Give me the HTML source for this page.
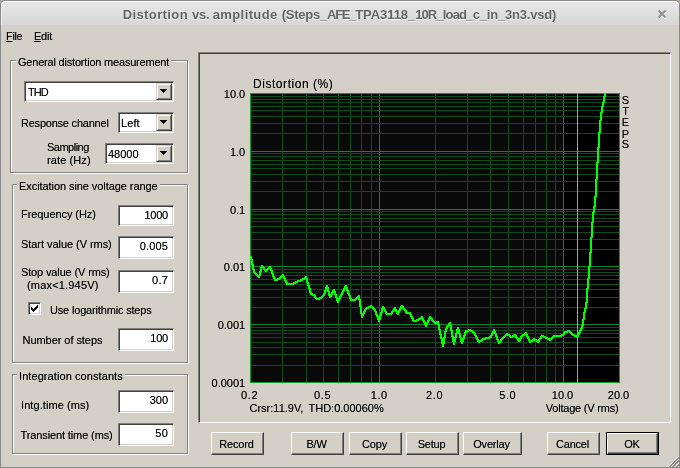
<!DOCTYPE html>
<html><head><meta charset="utf-8"><title>Distortion vs. amplitude</title>
<style>
html,body{margin:0;padding:0;}
body{width:680px;height:468px;overflow:hidden;background:#a9a59d;position:relative;font-family:"Liberation Sans",sans-serif;font-size:11px;color:#000;text-shadow:0 0 0 rgba(0,0,0,.55);}
#win{position:absolute;left:0;top:0;width:678px;height:466px;border:1px solid #8a8a8a;border-radius:5px 5px 0 0;background:#d4d0c8;overflow:hidden;}
#title{position:absolute;left:0;top:0;width:678px;height:23px;background:linear-gradient(#e8e8e8,#d6d6d6);border-top:1px solid #fcfcfc;box-shadow:inset 1px 0 0 #f4f4f4;border-radius:4px 4px 0 0;}
#ttext span{position:absolute;top:0;white-space:pre;}
#ttext{position:absolute;left:0;top:7px;width:680px;font:bold 13px "Liberation Sans",sans-serif;color:#646464;line-height:16px;text-shadow:0 1px 0 #fff;white-space:nowrap;}
.t{position:absolute;white-space:nowrap;line-height:13px;font-size:11px;letter-spacing:-0.22px;}
.yl{left:200px;width:45.2px;text-align:right;letter-spacing:0;}
.xl{top:389px;width:42px;text-align:center;letter-spacing:0.6px;}
.gb{position:absolute;border:1px solid #808080;box-shadow:1px 1px 0 #fff, inset 1px 1px 0 #fff;}
.gl{letter-spacing:-0.22px;position:absolute;background:#d4d0c8;padding:0 2px;white-space:nowrap;line-height:13px;}
.ed{position:absolute;background:#fff;border:1px solid;border-color:#808080 #fff #fff #808080;box-shadow:inset 1px 1px 0 #404040, inset -1px -1px 0 #d4d0c8;box-sizing:border-box;}
.ed .t{right:5px;text-align:right;}
.db{position:absolute;height:17px;background:#d4d0c8;border:1px solid;border-color:#d4d0c8 #404040 #404040 #d4d0c8;box-shadow:inset 1px 1px 0 #fff, inset -1px -1px 0 #808080;box-sizing:border-box;width:16px;}
.db svg{position:absolute;left:3px;top:5px;}
.bt{position:absolute;background:#d4d0c8;border:1px solid;border-color:#fff #404040 #404040 #fff;box-shadow:inset -1px -1px 0 #808080;box-sizing:border-box;height:23px;text-align:center;line-height:21px;font-size:11px;letter-spacing:-0.2px;padding:1px 2px 0 0;}
.plot{position:absolute;left:0;top:0;}
u{text-decoration:underline;text-underline-offset:1px;text-decoration-thickness:1px;}
</style></head><body>
<div id="win">
<div id="title"></div>
</div>
<div id="ttext"><span style="left:122.7px;letter-spacing:0.39px">Distortion </span><span style="left:192px;letter-spacing:-0.25px">vs. </span><span style="left:212.7px;letter-spacing:0.40px">amplitude </span><span style="left:281.7px;letter-spacing:-0.24px">(Steps_</span><span style="left:327px;letter-spacing:-1.26px">AFE_</span><span style="left:355.2px;letter-spacing:-0.06px">TPA3118_</span><span style="left:415.2px;letter-spacing:-0.89px">10R_</span><span style="left:442.7px;letter-spacing:-0.79px">load_</span><span style="left:472.7px;letter-spacing:-0.19px">c_in_</span><span style="left:505px;letter-spacing:-0.21px">3n3.vsd)</span></div>
<svg style="position:absolute;left:657px;top:9px" width="10" height="11" viewBox="0 0 10 11"><path d="M1.5 2.5L8.5 9.5M8.5 2.5L1.5 9.5" stroke="#fff" stroke-width="2.2"/><path d="M1.5 1.5L8.5 8.5M8.5 1.5L1.5 8.5" stroke="#939393" stroke-width="2.2"/></svg>

<div class="t" id="mfile" style="left:6px;top:30px;letter-spacing:-0.35px"><u>F</u>ile</div>
<div class="t" id="medit" style="left:34px;top:30px;letter-spacing:-0.25px"><u>E</u>dit</div>

<!-- group 1 -->
<div class="gb" style="left:10px;top:60px;width:176px;height:111px"></div>
<div class="gl" id="g1" style="left:16px;top:56px;letter-spacing:-0.2px">General distortion measurement</div>
<div class="ed" style="left:24px;top:81px;width:150px;height:21px"><div class="t" id="thd" style="left:3px;top:4px;right:auto;letter-spacing:-1px">THD</div><div class="db" style="right:1px;top:1px"><svg width="7" height="4" viewBox="0 0 7 4" shape-rendering="crispEdges"><path d="M0 0h7v1h-1v1h-1v1h-1v1h-1v-1h-1v-1h-1v-1h-1z" fill="#000"/></svg></div></div>
<div class="t" id="resp" style="left:21px;top:117px">Response channel</div>
<div class="ed" style="left:118px;top:112px;width:56px;height:21px"><div class="t" id="left" style="left:2px;top:4px;right:auto;letter-spacing:0.1px">Left</div><div class="db" style="right:1px;top:1px"><svg width="7" height="4" viewBox="0 0 7 4" shape-rendering="crispEdges"><path d="M0 0h7v1h-1v1h-1v1h-1v1h-1v-1h-1v-1h-1v-1h-1z" fill="#000"/></svg></div></div>
<div class="t" id="samp" style="left:47px;top:141px;letter-spacing:-0.5px">Sampling</div>
<div class="t" id="rate" style="left:47px;top:154px;letter-spacing:0.1px">rate (Hz)</div>
<div class="ed" style="left:105px;top:143px;width:69px;height:21px"><div class="t" id="v48" style="left:2px;top:4px;right:auto;letter-spacing:0px">48000</div><div class="db" style="right:1px;top:1px"><svg width="7" height="4" viewBox="0 0 7 4" shape-rendering="crispEdges"><path d="M0 0h7v1h-1v1h-1v1h-1v1h-1v-1h-1v-1h-1v-1h-1z" fill="#000"/></svg></div></div>

<!-- group 2 -->
<div class="gb" style="left:12px;top:184px;width:174px;height:177px"></div>
<div class="gl" id="g2" style="left:17px;top:180px;letter-spacing:-0.07px">Excitation sine voltage range</div>
<div class="t" id="freq" style="left:21px;top:208px;letter-spacing:-0.07px">Frequency (Hz)</div>
<div class="ed" style="left:118px;top:205px;width:56px;height:21px"><div class="t" id="v1000" style="top:3px">1000</div></div>
<div class="t" id="start" style="left:21px;top:238px;letter-spacing:-0.05px">Start value (V rms)</div>
<div class="ed" style="left:118px;top:236px;width:56px;height:23px"><div class="t" id="v0005" style="top:3px;letter-spacing:0.13px">0.005</div></div>
<div class="t" id="stop" style="left:21px;top:266px;letter-spacing:-0.14px">Stop value (V rms)</div>
<div class="t" id="max" style="left:27px;top:279px;letter-spacing:0.18px">(max&lt;1.945V)</div>
<div class="ed" style="left:118px;top:270px;width:56px;height:23px"><div class="t" id="v07" style="top:3px;letter-spacing:0.2px">0.7</div></div>
<div class="ed" style="left:28px;top:302px;width:13px;height:13px"><svg style="position:absolute;left:2px;top:2px" width="7" height="7" viewBox="0 0 7 7" shape-rendering="crispEdges"><path d="M0 2h1v3h-1zM1 3h1v3h-1zM2 4h1v3h-1zM3 3h1v3h-1zM4 2h1v3h-1zM5 1h1v3h-1zM6 0h1v3h-1z" fill="#000"/></svg></div>
<div class="t" id="uselog" style="left:50px;top:304px;letter-spacing:-0.17px">Use logarithmic steps</div>
<div class="t" id="nsteps" style="left:22.5px;top:334px;letter-spacing:-0.05px">Number of steps</div>
<div class="ed" style="left:118px;top:328px;width:56px;height:23px"><div class="t" id="v100" style="top:3px">100</div></div>

<!-- group 3 -->
<div class="gb" style="left:12px;top:374px;width:174px;height:78px"></div>
<div class="gl" id="g3" style="left:17px;top:370px;letter-spacing:0.08px">Integration constants</div>
<div class="t" id="intg" style="left:21px;top:399px;letter-spacing:0.08px">Intg.time (ms)</div>
<div class="ed" style="left:118px;top:390px;width:56px;height:23px"><div class="t" id="v300" style="top:3px;letter-spacing:0px">300</div></div>
<div class="t" id="trans" style="left:20.5px;top:429px;letter-spacing:-0.115px">Transient time (ms)</div>
<div class="ed" style="left:118px;top:423px;width:56px;height:23px"><div class="t" id="v50" style="top:3px;letter-spacing:0.2px">50</div></div>

<!-- plot frame -->
<div style="position:absolute;left:198px;top:52px;width:473px;height:371px;box-sizing:border-box;border:1px solid;border-color:#808080 #fff #fff #808080;box-shadow:inset 1px 1px 0 #404040, inset -1px -1px 0 #d4d0c8;"></div>
<svg class="plot" width="680" height="468" viewBox="0 0 680 468" shape-rendering="crispEdges">
<rect x="250" y="93" width="370" height="290" fill="#090909"/>
<rect x="563" y="93" width="57" height="290" fill="#000"/>
<rect x="282" y="93" width="1" height="290" fill="#0b4c1e"/>
<rect x="306" y="93" width="1" height="290" fill="#0b4c1e"/>
<rect x="323" y="93" width="1" height="290" fill="#0b4c1e"/>
<rect x="338" y="93" width="1" height="290" fill="#0b4c1e"/>
<rect x="350" y="93" width="1" height="290" fill="#0b4c1e"/>
<rect x="361" y="93" width="1" height="290" fill="#0b4c1e"/>
<rect x="371" y="93" width="1" height="290" fill="#0b4c1e"/>
<rect x="379" y="93" width="1" height="290" fill="#0b862d"/>
<rect x="435" y="93" width="1" height="290" fill="#0b4c1e"/>
<rect x="467" y="93" width="1" height="290" fill="#0b4c1e"/>
<rect x="490" y="93" width="1" height="290" fill="#0b4c1e"/>
<rect x="508" y="93" width="1" height="290" fill="#0b4c1e"/>
<rect x="523" y="93" width="1" height="290" fill="#0b4c1e"/>
<rect x="535" y="93" width="1" height="290" fill="#0b4c1e"/>
<rect x="546" y="93" width="1" height="290" fill="#0b4c1e"/>
<rect x="555" y="93" width="1" height="290" fill="#0b4c1e"/>
<rect x="563" y="93" width="1" height="290" fill="#0b862d"/>
<rect x="250" y="382" width="370" height="1" fill="#0b862d"/>
<rect x="250" y="365" width="370" height="1" fill="#0b4c1e"/>
<rect x="250" y="354" width="370" height="1" fill="#0b4c1e"/>
<rect x="250" y="347" width="370" height="1" fill="#0b4c1e"/>
<rect x="250" y="342" width="370" height="1" fill="#0b4c1e"/>
<rect x="250" y="337" width="370" height="1" fill="#0b4c1e"/>
<rect x="250" y="333" width="370" height="1" fill="#0b4c1e"/>
<rect x="250" y="330" width="370" height="1" fill="#0b4c1e"/>
<rect x="250" y="327" width="370" height="1" fill="#0b4c1e"/>
<rect x="250" y="324" width="370" height="1" fill="#0b862d"/>
<rect x="250" y="307" width="370" height="1" fill="#0b4c1e"/>
<rect x="250" y="297" width="370" height="1" fill="#0b4c1e"/>
<rect x="250" y="289" width="370" height="1" fill="#0b4c1e"/>
<rect x="250" y="284" width="370" height="1" fill="#0b4c1e"/>
<rect x="250" y="279" width="370" height="1" fill="#0b4c1e"/>
<rect x="250" y="275" width="370" height="1" fill="#0b4c1e"/>
<rect x="250" y="272" width="370" height="1" fill="#0b4c1e"/>
<rect x="250" y="269" width="370" height="1" fill="#0b4c1e"/>
<rect x="250" y="266" width="370" height="1" fill="#0b862d"/>
<rect x="250" y="249" width="370" height="1" fill="#0b4c1e"/>
<rect x="250" y="239" width="370" height="1" fill="#0b4c1e"/>
<rect x="250" y="232" width="370" height="1" fill="#0b4c1e"/>
<rect x="250" y="226" width="370" height="1" fill="#0b4c1e"/>
<rect x="250" y="221" width="370" height="1" fill="#0b4c1e"/>
<rect x="250" y="218" width="370" height="1" fill="#0b4c1e"/>
<rect x="250" y="214" width="370" height="1" fill="#0b4c1e"/>
<rect x="250" y="211" width="370" height="1" fill="#0b4c1e"/>
<rect x="250" y="209" width="370" height="1" fill="#0b862d"/>
<rect x="250" y="191" width="370" height="1" fill="#0b4c1e"/>
<rect x="250" y="181" width="370" height="1" fill="#0b4c1e"/>
<rect x="250" y="174" width="370" height="1" fill="#0b4c1e"/>
<rect x="250" y="168" width="370" height="1" fill="#0b4c1e"/>
<rect x="250" y="164" width="370" height="1" fill="#0b4c1e"/>
<rect x="250" y="160" width="370" height="1" fill="#0b4c1e"/>
<rect x="250" y="156" width="370" height="1" fill="#0b4c1e"/>
<rect x="250" y="153" width="370" height="1" fill="#0b4c1e"/>
<rect x="250" y="151" width="370" height="1" fill="#0b862d"/>
<rect x="250" y="133" width="370" height="1" fill="#0b4c1e"/>
<rect x="250" y="123" width="370" height="1" fill="#0b4c1e"/>
<rect x="250" y="116" width="370" height="1" fill="#0b4c1e"/>
<rect x="250" y="110" width="370" height="1" fill="#0b4c1e"/>
<rect x="250" y="106" width="370" height="1" fill="#0b4c1e"/>
<rect x="250" y="102" width="370" height="1" fill="#0b4c1e"/>
<rect x="250" y="99" width="370" height="1" fill="#0b4c1e"/>
<rect x="250" y="96" width="370" height="1" fill="#0b4c1e"/>
<rect x="250.5" y="93.5" width="369" height="289" fill="none" stroke="#0f9a30" stroke-width="1"/>
<rect x="577" y="93" width="1" height="290" fill="#c4b000"/>
<path d="M604 93h2v1h-2zM604 94h2v1h-2zM604 95h2v1h-2zM603 96h3v1h-3zM603 97h2v1h-2zM603 98h2v1h-2zM603 99h2v1h-2zM603 100h2v1h-2zM603 101h2v1h-2zM602 102h3v1h-3zM602 103h2v1h-2zM602 104h2v1h-2zM602 105h2v1h-2zM601 106h3v1h-3zM601 107h2v1h-2zM601 108h2v1h-2zM601 109h2v1h-2zM601 110h2v1h-2zM601 111h2v1h-2zM600 112h3v1h-3zM600 113h2v1h-2zM600 114h2v1h-2zM600 115h2v1h-2zM600 116h2v1h-2zM600 117h2v1h-2zM600 118h2v1h-2zM600 119h2v1h-2zM599 120h3v1h-3zM599 121h2v1h-2zM599 122h2v1h-2zM599 123h2v1h-2zM599 124h2v1h-2zM599 125h2v1h-2zM599 126h2v1h-2zM599 127h2v1h-2zM599 128h2v1h-2zM599 129h2v1h-2zM599 130h2v1h-2zM599 131h2v1h-2zM598 132h3v1h-3zM598 133h2v1h-2zM598 134h2v1h-2zM598 135h2v1h-2zM598 136h2v1h-2zM598 137h2v1h-2zM598 138h2v1h-2zM598 139h2v1h-2zM598 140h2v1h-2zM598 141h2v1h-2zM598 142h2v1h-2zM598 143h2v1h-2zM598 144h2v1h-2zM598 145h2v1h-2zM598 146h2v1h-2zM597 147h3v1h-3zM597 148h2v1h-2zM597 149h2v1h-2zM597 150h2v1h-2zM597 151h2v1h-2zM597 152h2v1h-2zM597 153h2v1h-2zM597 154h2v1h-2zM597 155h2v1h-2zM597 156h2v1h-2zM597 157h2v1h-2zM597 158h2v1h-2zM597 159h2v1h-2zM597 160h2v1h-2zM597 161h2v1h-2zM596 162h3v1h-3zM596 163h2v1h-2zM596 164h2v1h-2zM596 165h2v1h-2zM596 166h2v1h-2zM596 167h2v1h-2zM596 168h2v1h-2zM596 169h2v1h-2zM596 170h2v1h-2zM596 171h2v1h-2zM596 172h2v1h-2zM596 173h2v1h-2zM596 174h2v1h-2zM596 175h2v1h-2zM596 176h2v1h-2zM596 177h2v1h-2zM596 178h2v1h-2zM595 179h3v1h-3zM595 180h2v1h-2zM595 181h2v1h-2zM595 182h2v1h-2zM595 183h2v1h-2zM595 184h2v1h-2zM595 185h2v1h-2zM595 186h2v1h-2zM595 187h2v1h-2zM595 188h2v1h-2zM595 189h2v1h-2zM595 190h2v1h-2zM595 191h2v1h-2zM595 192h2v1h-2zM595 193h2v1h-2zM595 194h2v1h-2zM595 195h2v1h-2zM594 196h3v1h-3zM594 197h2v1h-2zM594 198h2v1h-2zM594 199h2v1h-2zM594 200h2v1h-2zM594 201h2v1h-2zM594 202h2v1h-2zM594 203h2v1h-2zM594 204h2v1h-2zM594 205h2v1h-2zM593 206h3v1h-3zM593 207h2v1h-2zM593 208h2v1h-2zM593 209h2v1h-2zM593 210h2v1h-2zM593 211h2v1h-2zM592 212h3v1h-3zM592 213h2v1h-2zM592 214h2v1h-2zM592 215h2v1h-2zM592 216h2v1h-2zM592 217h2v1h-2zM592 218h2v1h-2zM592 219h2v1h-2zM592 220h2v1h-2zM592 221h2v1h-2zM591 222h3v1h-3zM591 223h2v1h-2zM591 224h2v1h-2zM591 225h2v1h-2zM591 226h2v1h-2zM591 227h2v1h-2zM591 228h2v1h-2zM591 229h2v1h-2zM591 230h2v1h-2zM591 231h2v1h-2zM591 232h2v1h-2zM591 233h2v1h-2zM591 234h2v1h-2zM591 235h2v1h-2zM591 236h2v1h-2zM590 237h3v1h-3zM590 238h2v1h-2zM590 239h2v1h-2zM590 240h2v1h-2zM590 241h2v1h-2zM590 242h2v1h-2zM590 243h2v1h-2zM590 244h2v1h-2zM590 245h2v1h-2zM590 246h2v1h-2zM590 247h2v1h-2zM590 248h2v1h-2zM590 249h2v1h-2zM590 250h2v1h-2zM590 251h2v1h-2zM589 252h3v1h-3zM589 253h2v1h-2zM589 254h2v1h-2zM589 255h2v1h-2zM250 256h2v1h-2zM589 256h2v1h-2zM250 257h2v1h-2zM589 257h2v1h-2zM250 258h2v1h-2zM589 258h2v1h-2zM250 259h3v1h-3zM589 259h2v1h-2zM251 260h2v1h-2zM589 260h2v1h-2zM251 261h2v1h-2zM589 261h2v1h-2zM251 262h2v1h-2zM589 262h2v1h-2zM251 263h2v1h-2zM589 263h2v1h-2zM251 264h3v1h-3zM589 264h2v1h-2zM252 265h2v1h-2zM261 265h2v1h-2zM589 265h2v1h-2zM252 266h2v1h-2zM261 266h3v1h-3zM269 266h2v1h-2zM588 266h3v1h-3zM252 267h2v1h-2zM260 267h5v1h-5zM268 267h3v1h-3zM588 267h2v1h-2zM252 268h2v1h-2zM260 268h2v1h-2zM263 268h2v1h-2zM267 268h5v1h-5zM588 268h2v1h-2zM252 269h3v1h-3zM260 269h2v1h-2zM263 269h6v1h-6zM270 269h2v1h-2zM588 269h2v1h-2zM253 270h2v1h-2zM260 270h2v1h-2zM264 270h4v1h-4zM270 270h3v1h-3zM588 270h2v1h-2zM253 271h2v1h-2zM259 271h3v1h-3zM265 271h2v1h-2zM271 271h2v1h-2zM588 271h2v1h-2zM253 272h3v1h-3zM259 272h2v1h-2zM271 272h2v1h-2zM588 272h2v1h-2zM254 273h3v1h-3zM259 273h2v1h-2zM271 273h3v1h-3zM588 273h2v1h-2zM255 274h3v1h-3zM259 274h2v1h-2zM272 274h2v1h-2zM282 274h2v1h-2zM588 274h2v1h-2zM256 275h5v1h-5zM272 275h2v1h-2zM281 275h3v1h-3zM588 275h2v1h-2zM257 276h3v1h-3zM272 276h3v1h-3zM280 276h5v1h-5zM305 276h2v1h-2zM588 276h2v1h-2zM258 277h2v1h-2zM273 277h2v1h-2zM279 277h3v1h-3zM283 277h2v1h-2zM304 277h3v1h-3zM588 277h2v1h-2zM273 278h3v1h-3zM277 278h4v1h-4zM283 278h3v1h-3zM302 278h6v1h-6zM587 278h3v1h-3zM274 279h6v1h-6zM284 279h2v1h-2zM300 279h5v1h-5zM306 279h2v1h-2zM587 279h2v1h-2zM274 280h4v1h-4zM284 280h3v1h-3zM297 280h6v1h-6zM306 280h2v1h-2zM587 280h2v1h-2zM285 281h2v1h-2zM295 281h6v1h-6zM306 281h2v1h-2zM587 281h2v1h-2zM285 282h3v1h-3zM293 282h5v1h-5zM306 282h3v1h-3zM587 282h2v1h-2zM286 283h10v1h-10zM307 283h2v1h-2zM587 283h2v1h-2zM286 284h8v1h-8zM307 284h2v1h-2zM587 284h2v1h-2zM307 285h3v1h-3zM326 285h2v1h-2zM345 285h2v1h-2zM587 285h2v1h-2zM308 286h2v1h-2zM326 286h2v1h-2zM344 286h3v1h-3zM587 286h2v1h-2zM308 287h2v1h-2zM325 287h4v1h-4zM344 287h4v1h-4zM587 287h2v1h-2zM308 288h3v1h-3zM325 288h4v1h-4zM343 288h5v1h-5zM586 288h3v1h-3zM309 289h2v1h-2zM325 289h4v1h-4zM333 289h2v1h-2zM343 289h2v1h-2zM346 289h2v1h-2zM586 289h2v1h-2zM309 290h2v1h-2zM324 290h5v1h-5zM332 290h3v1h-3zM342 290h3v1h-3zM346 290h3v1h-3zM586 290h2v1h-2zM309 291h2v1h-2zM324 291h2v1h-2zM327 291h3v1h-3zM332 291h4v1h-4zM342 291h2v1h-2zM347 291h2v1h-2zM586 291h2v1h-2zM309 292h3v1h-3zM324 292h2v1h-2zM328 292h2v1h-2zM331 292h5v1h-5zM341 292h3v1h-3zM347 292h2v1h-2zM586 292h2v1h-2zM310 293h3v1h-3zM323 293h3v1h-3zM328 293h2v1h-2zM331 293h2v1h-2zM334 293h2v1h-2zM341 293h2v1h-2zM347 293h3v1h-3zM586 293h2v1h-2zM310 294h5v1h-5zM323 294h2v1h-2zM328 294h5v1h-5zM334 294h3v1h-3zM340 294h3v1h-3zM348 294h2v1h-2zM586 294h2v1h-2zM312 295h4v1h-4zM322 295h3v1h-3zM328 295h4v1h-4zM335 295h2v1h-2zM340 295h2v1h-2zM348 295h3v1h-3zM358 295h2v1h-2zM586 295h2v1h-2zM314 296h2v1h-2zM321 296h3v1h-3zM329 296h3v1h-3zM335 296h2v1h-2zM339 296h3v1h-3zM349 296h2v1h-2zM357 296h3v1h-3zM586 296h2v1h-2zM314 297h3v1h-3zM319 297h4v1h-4zM329 297h2v1h-2zM335 297h3v1h-3zM339 297h2v1h-2zM349 297h2v1h-2zM356 297h4v1h-4zM586 297h2v1h-2zM315 298h7v1h-7zM336 298h5v1h-5zM349 298h3v1h-3zM355 298h5v1h-5zM586 298h2v1h-2zM316 299h4v1h-4zM336 299h4v1h-4zM350 299h7v1h-7zM358 299h3v1h-3zM586 299h2v1h-2zM336 300h4v1h-4zM350 300h6v1h-6zM359 300h2v1h-2zM586 300h2v1h-2zM337 301h2v1h-2zM359 301h2v1h-2zM586 301h2v1h-2zM337 302h2v1h-2zM359 302h2v1h-2zM585 302h3v1h-3zM359 303h2v1h-2zM585 303h2v1h-2zM359 304h2v1h-2zM585 304h2v1h-2zM359 305h2v1h-2zM370 305h2v1h-2zM401 305h2v1h-2zM585 305h2v1h-2zM359 306h3v1h-3zM368 306h5v1h-5zM382 306h2v1h-2zM400 306h4v1h-4zM585 306h2v1h-2zM360 307h2v1h-2zM366 307h8v1h-8zM382 307h3v1h-3zM394 307h2v1h-2zM400 307h4v1h-4zM585 307h2v1h-2zM360 308h2v1h-2zM365 308h4v1h-4zM372 308h3v1h-3zM381 308h4v1h-4zM393 308h3v1h-3zM399 308h6v1h-6zM584 308h3v1h-3zM360 309h2v1h-2zM364 309h3v1h-3zM373 309h3v1h-3zM381 309h5v1h-5zM393 309h4v1h-4zM399 309h2v1h-2zM403 309h3v1h-3zM584 309h2v1h-2zM360 310h2v1h-2zM364 310h2v1h-2zM374 310h2v1h-2zM381 310h2v1h-2zM384 310h2v1h-2zM392 310h5v1h-5zM398 310h3v1h-3zM404 310h3v1h-3zM584 310h2v1h-2zM360 311h2v1h-2zM363 311h3v1h-3zM374 311h3v1h-3zM381 311h2v1h-2zM384 311h3v1h-3zM391 311h3v1h-3zM395 311h5v1h-5zM405 311h2v1h-2zM584 311h2v1h-2zM360 312h2v1h-2zM363 312h2v1h-2zM375 312h2v1h-2zM380 312h3v1h-3zM385 312h2v1h-2zM391 312h2v1h-2zM396 312h4v1h-4zM405 312h6v1h-6zM583 312h3v1h-3zM360 313h5v1h-5zM375 313h2v1h-2zM380 313h2v1h-2zM385 313h8v1h-8zM396 313h3v1h-3zM406 313h5v1h-5zM583 313h2v1h-2zM361 314h3v1h-3zM375 314h3v1h-3zM380 314h2v1h-2zM386 314h6v1h-6zM397 314h2v1h-2zM409 314h3v1h-3zM583 314h2v1h-2zM361 315h3v1h-3zM376 315h2v1h-2zM379 315h3v1h-3zM410 315h2v1h-2zM583 315h2v1h-2zM361 316h2v1h-2zM376 316h5v1h-5zM410 316h3v1h-3zM421 316h2v1h-2zM429 316h2v1h-2zM583 316h2v1h-2zM361 317h2v1h-2zM377 317h4v1h-4zM411 317h2v1h-2zM420 317h3v1h-3zM429 317h3v1h-3zM583 317h2v1h-2zM377 318h4v1h-4zM411 318h3v1h-3zM418 318h6v1h-6zM428 318h5v1h-5zM583 318h2v1h-2zM377 319h4v1h-4zM412 319h2v1h-2zM416 319h5v1h-5zM422 319h2v1h-2zM428 319h2v1h-2zM431 319h2v1h-2zM582 319h3v1h-3zM378 320h2v1h-2zM412 320h7v1h-7zM422 320h3v1h-3zM427 320h3v1h-3zM431 320h3v1h-3zM582 320h2v1h-2zM378 321h2v1h-2zM413 321h4v1h-4zM423 321h2v1h-2zM427 321h2v1h-2zM432 321h3v1h-3zM436 321h3v1h-3zM582 321h2v1h-2zM423 322h6v1h-6zM433 322h6v1h-6zM449 322h2v1h-2zM582 322h2v1h-2zM424 323h4v1h-4zM434 323h5v1h-5zM448 323h3v1h-3zM582 323h2v1h-2zM424 324h4v1h-4zM437 324h3v1h-3zM448 324h3v1h-3zM582 324h2v1h-2zM425 325h2v1h-2zM438 325h2v1h-2zM447 325h5v1h-5zM581 325h3v1h-3zM425 326h2v1h-2zM438 326h2v1h-2zM446 326h3v1h-3zM450 326h2v1h-2zM581 326h2v1h-2zM438 327h2v1h-2zM446 327h2v1h-2zM450 327h2v1h-2zM457 327h2v1h-2zM581 327h2v1h-2zM438 328h2v1h-2zM445 328h3v1h-3zM450 328h2v1h-2zM457 328h2v1h-2zM580 328h3v1h-3zM438 329h3v1h-3zM445 329h2v1h-2zM450 329h2v1h-2zM456 329h4v1h-4zM468 329h3v1h-3zM493 329h2v1h-2zM580 329h2v1h-2zM439 330h2v1h-2zM445 330h2v1h-2zM450 330h3v1h-3zM456 330h4v1h-4zM465 330h8v1h-8zM493 330h2v1h-2zM567 330h3v1h-3zM579 330h3v1h-3zM439 331h2v1h-2zM444 331h3v1h-3zM451 331h2v1h-2zM456 331h4v1h-4zM465 331h4v1h-4zM470 331h4v1h-4zM492 331h4v1h-4zM564 331h7v1h-7zM579 331h2v1h-2zM439 332h2v1h-2zM444 332h2v1h-2zM451 332h2v1h-2zM456 332h4v1h-4zM464 332h3v1h-3zM472 332h3v1h-3zM492 332h4v1h-4zM525 332h2v1h-2zM563 332h5v1h-5zM569 332h3v1h-3zM578 332h3v1h-3zM439 333h2v1h-2zM444 333h2v1h-2zM451 333h2v1h-2zM455 333h6v1h-6zM464 333h2v1h-2zM473 333h3v1h-3zM491 333h6v1h-6zM506 333h2v1h-2zM524 333h3v1h-3zM563 333h2v1h-2zM570 333h3v1h-3zM578 333h2v1h-2zM439 334h3v1h-3zM444 334h2v1h-2zM451 334h2v1h-2zM455 334h2v1h-2zM459 334h2v1h-2zM464 334h2v1h-2zM474 334h2v1h-2zM491 334h2v1h-2zM495 334h2v1h-2zM505 334h5v1h-5zM514 334h2v1h-2zM522 334h6v1h-6zM561 334h4v1h-4zM571 334h4v1h-4zM577 334h3v1h-3zM440 335h2v1h-2zM444 335h2v1h-2zM451 335h2v1h-2zM455 335h2v1h-2zM459 335h2v1h-2zM463 335h3v1h-3zM474 335h3v1h-3zM490 335h3v1h-3zM495 335h2v1h-2zM504 335h7v1h-7zM512 335h5v1h-5zM521 335h4v1h-4zM526 335h2v1h-2zM541 335h3v1h-3zM553 335h11v1h-11zM572 335h7v1h-7zM440 336h2v1h-2zM444 336h2v1h-2zM451 336h3v1h-3zM455 336h2v1h-2zM459 336h2v1h-2zM463 336h2v1h-2zM475 336h2v1h-2zM489 336h3v1h-3zM495 336h3v1h-3zM503 336h3v1h-3zM509 336h8v1h-8zM520 336h3v1h-3zM526 336h3v1h-3zM540 336h6v1h-6zM552 336h10v1h-10zM574 336h5v1h-5zM440 337h2v1h-2zM443 337h3v1h-3zM452 337h5v1h-5zM459 337h3v1h-3zM463 337h2v1h-2zM475 337h3v1h-3zM485 337h7v1h-7zM496 337h2v1h-2zM502 337h3v1h-3zM510 337h3v1h-3zM515 337h3v1h-3zM520 337h2v1h-2zM527 337h2v1h-2zM540 337h2v1h-2zM543 337h5v1h-5zM551 337h3v1h-3zM576 337h2v1h-2zM440 338h5v1h-5zM452 338h4v1h-4zM460 338h5v1h-5zM476 338h2v1h-2zM482 338h8v1h-8zM496 338h2v1h-2zM501 338h3v1h-3zM516 338h6v1h-6zM527 338h3v1h-3zM533 338h2v1h-2zM539 338h3v1h-3zM545 338h8v1h-8zM441 339h4v1h-4zM452 339h4v1h-4zM460 339h4v1h-4zM476 339h3v1h-3zM481 339h5v1h-5zM496 339h3v1h-3zM500 339h3v1h-3zM517 339h4v1h-4zM528 339h2v1h-2zM532 339h5v1h-5zM538 339h3v1h-3zM547 339h5v1h-5zM441 340h4v1h-4zM452 340h4v1h-4zM460 340h4v1h-4zM477 340h6v1h-6zM497 340h2v1h-2zM500 340h2v1h-2zM517 340h4v1h-4zM528 340h12v1h-12zM549 340h2v1h-2zM441 341h4v1h-4zM452 341h4v1h-4zM460 341h4v1h-4zM477 341h5v1h-5zM497 341h5v1h-5zM518 341h2v1h-2zM529 341h4v1h-4zM536 341h4v1h-4zM441 342h4v1h-4zM453 342h2v1h-2zM461 342h2v1h-2zM478 342h2v1h-2zM498 342h3v1h-3zM529 342h2v1h-2zM537 342h2v1h-2zM441 343h4v1h-4zM453 343h2v1h-2zM461 343h2v1h-2zM498 343h2v1h-2zM442 344h2v1h-2zM453 344h2v1h-2zM442 345h2v1h-2zM442 346h2v1h-2z" fill="#00ff00"/>
</svg>
<div class="t" id="pdist" style="left:253px;top:78px;font-size:12px;letter-spacing:0.55px">Distortion (%)</div>
<div class="t yl" id="y0" style="top:88px">10.0</div>
<div class="t yl" id="y1" style="top:146px">1.0</div>
<div class="t yl" id="y2" style="top:204px">0.1</div>
<div class="t yl" id="y3" style="top:261px">0.01</div>
<div class="t yl" id="y4" style="top:319px">0.001</div>
<div class="t yl" id="y5" style="top:377px">0.0001</div>

<div class="t xl" id="x0" style="left:228.6px">0.2</div>
<div class="t xl" id="x1" style="left:301.6px">0.5</div>
<div class="t xl" id="x2" style="left:358.3px">1.0</div>
<div class="t xl" id="x3" style="left:413.6px">2.0</div>
<div class="t xl" id="x4" style="left:486.8px">5.0</div>
<div class="t xl" id="x5" style="left:541.5px;letter-spacing:0">10.0</div>
<div class="t xl" id="x6" style="left:597.5px;letter-spacing:0">20.0</div>
<div class="t" id="crsr" style="left:249.5px;top:402px;letter-spacing:0px">Crsr:11.9V, </div><div class="t" id="crsr2" style="left:308.5px;top:402px;letter-spacing:0px">THD:0.00060%</div>
<div class="t" id="volt" style="left:500px;width:118.5px;text-align:right;top:402px;letter-spacing:-0.2px">Voltage (V rms)</div>
<div id="steps" style="position:absolute;left:620.5px;top:0;width:10px;text-align:center"><div class="t" style="left:0;width:10px;top:94px;letter-spacing:0">S</div><div class="t" style="left:0;width:10px;top:105px;letter-spacing:0">T</div><div class="t" style="left:0;width:10px;top:116px;letter-spacing:0">E</div><div class="t" style="left:0;width:10px;top:127.5px;letter-spacing:0">P</div><div class="t" style="left:0;width:10px;top:138px;letter-spacing:0">S</div></div>

<!-- buttons -->
<div class="bt" style="left:211px;top:432px;width:53px"><span id="brec">Record</span></div>
<div class="bt" style="left:291px;top:432px;width:53px"><span id="bbw">B/W</span></div>
<div class="bt" style="left:349px;top:432px;width:53px"><span id="bcopy">Copy</span></div>
<div class="bt" style="left:406px;top:432px;width:53px"><span id="bsetup">Setup</span></div>
<div class="bt" style="left:463px;top:432px;width:59px"><span id="bover">Overlay</span></div>
<div class="bt" style="left:547px;top:432px;width:53px"><span id="bcancel">Cancel</span></div>
<div style="position:absolute;left:606px;top:432px;width:53px;height:23px;background:#000"></div>
<div class="bt" style="left:607px;top:433px;width:51px;height:21px;line-height:19px;padding-right:1px"><span id="bok">OK</span></div>

<!-- grip -->
<svg style="position:absolute;left:667px;top:455px" width="12" height="12" viewBox="0 0 12 12" shape-rendering="crispEdges"><path d="M1 11h1v1h-1zM2 10h1v1h-1zM3 9h1v1h-1zM4 8h1v1h-1zM5 7h1v1h-1zM6 6h1v1h-1zM7 5h1v1h-1zM8 4h1v1h-1zM9 3h1v1h-1zM10 2h1v1h-1zM11 1h1v1h-1zM4 11h1v1h-1zM5 10h1v1h-1zM6 9h1v1h-1zM7 8h1v1h-1zM8 7h1v1h-1zM9 6h1v1h-1zM10 5h1v1h-1zM11 4h1v1h-1zM8 11h1v1h-1zM9 10h1v1h-1zM10 9h1v1h-1zM11 8h1v1h-1zM11 11h1v1h-1z" fill="#fff"/><path d="M2 11h1v1h-1zM3 10h1v1h-1zM4 9h1v1h-1zM5 8h1v1h-1zM6 7h1v1h-1zM7 6h1v1h-1zM8 5h1v1h-1zM9 4h1v1h-1zM10 3h1v1h-1zM11 2h1v1h-1zM3 11h1v1h-1zM4 10h1v1h-1zM5 9h1v1h-1zM6 8h1v1h-1zM7 7h1v1h-1zM8 6h1v1h-1zM9 5h1v1h-1zM10 4h1v1h-1zM11 3h1v1h-1zM5 11h1v1h-1zM6 10h1v1h-1zM7 9h1v1h-1zM8 8h1v1h-1zM9 7h1v1h-1zM10 6h1v1h-1zM11 5h1v1h-1zM6 11h1v1h-1zM7 10h1v1h-1zM8 9h1v1h-1zM9 8h1v1h-1zM10 7h1v1h-1zM11 6h1v1h-1zM9 11h1v1h-1zM10 10h1v1h-1zM11 9h1v1h-1zM10 11h1v1h-1zM11 10h1v1h-1z" fill="#808080"/></svg>
</body></html>
